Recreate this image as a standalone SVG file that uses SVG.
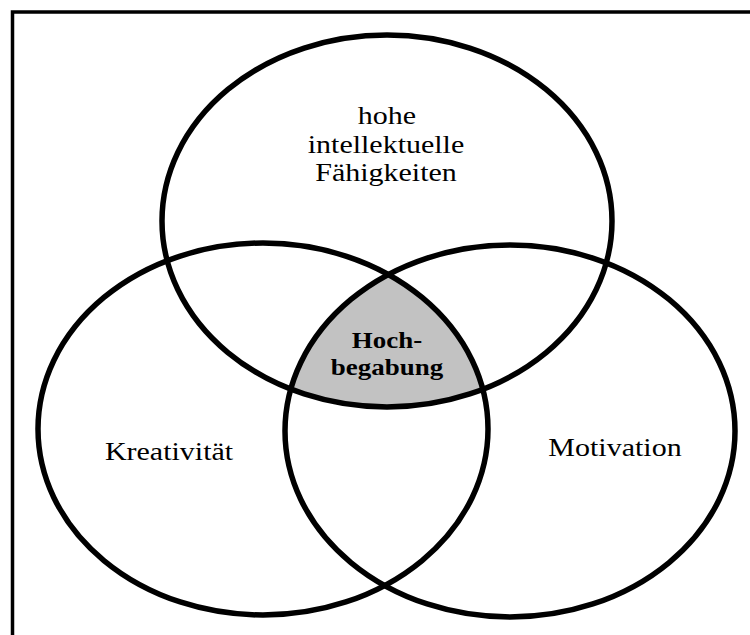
<svg xmlns="http://www.w3.org/2000/svg" width="750" height="635" viewBox="0 0 750 635">
  <style>
    .ring { fill: none; stroke: #000; stroke-width: 5.5; }
    .frame { fill: none; stroke: #000; stroke-width: 3.5; }
    .lbl { font-family: "Liberation Serif", "Times New Roman", serif; font-size: 30px; fill: #000; text-anchor: middle; }
    .core { font-weight: bold; font-size: 27px; }
  </style>
  <defs>
    <clipPath id="clipLeft">
      <ellipse cx="263" cy="429" rx="225" ry="186"/>
    </clipPath>
    <clipPath id="clipRight">
      <ellipse cx="510" cy="431" rx="225" ry="186"/>
    </clipPath>
  </defs>

  <rect width="750" height="635" fill="#fff"/>

  <!-- open frame: top and left edges -->
  <path class="frame" d="M12.5 640 V12 H752"/>

  <!-- shaded common area of all three sets -->
  <g id="overlap" clip-path="url(#clipRight)">
    <ellipse cx="387" cy="221" rx="225" ry="186" fill="#c2c2c2" clip-path="url(#clipLeft)"/>
  </g>

  <g id="intellect">
    <ellipse class="ring" cx="387" cy="221" rx="225" ry="186"/>
    <text class="lbl" transform="translate(387,123.5) scale(1,0.85)">hohe</text>
    <text class="lbl" transform="translate(386,152.5) scale(1,0.85)">intellektuelle</text>
    <text class="lbl" transform="translate(386,180.5) scale(1,0.85)">Fähigkeiten</text>
  </g>

  <g id="creativity">
    <ellipse class="ring" cx="263" cy="429" rx="225" ry="186"/>
    <text class="lbl" transform="translate(169,460) scale(1,0.85)">Kreativität</text>
  </g>

  <g id="motivation">
    <ellipse class="ring" cx="510" cy="431" rx="225" ry="186"/>
    <text class="lbl" transform="translate(615,456) scale(1,0.85)">Motivation</text>
  </g>

  <g id="giftedness">
    <text class="lbl core" transform="translate(387,348) scale(1,0.85)">Hoch-</text>
    <text class="lbl core" transform="translate(387,375) scale(1,0.85)">begabung</text>
  </g>
</svg>
